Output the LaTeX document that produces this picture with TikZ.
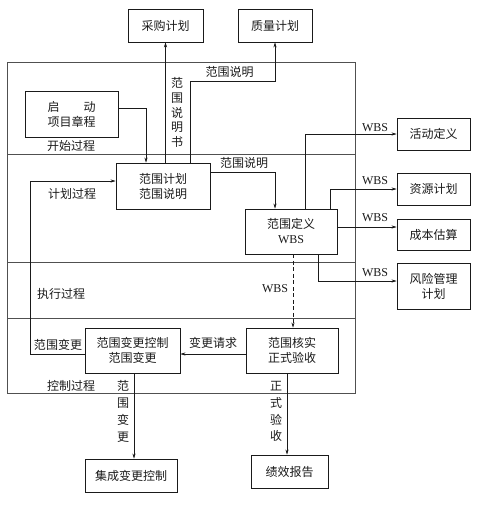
\documentclass[tikz,border=0pt]{standalone}
\usepackage{fontspec}
\setmainfont{Liberation Serif}
\newfontfamily\cjk{Noto Sans CJK SC}
\definecolor{pmInk}{HTML}{1A1A1A}
\definecolor{pmLane}{HTML}{505050}
\usetikzlibrary{arrows.meta}

\begin{document}
\begin{tikzpicture}[x=1pt,y=-1pt,
  font=\fontsize{12}{15}\selectfont\cjk,text=pmInk,
  blk/.style={draw=pmInk,line width=0.9pt,inner sep=0pt,align=center,minimum height=33pt},
  tall/.style={blk,minimum height=45pt},
  flow/.style={draw=pmInk,line width=0.55pt,-{Stealth[length=5pt,width=3.2pt]}},
  tag/.style={inner sep=1pt},
  wbs/.style={tag,font=\fontsize{12}{15}\selectfont\rmfamily},
  vtag/.style={tag,align=center},
  lane/.style={draw=pmLane,line width=0.6pt}]
\useasboundingbox (0,0) rectangle (479,506);
% process frame and lanes
\draw[lane] (7,62) rectangle (355,393);
\foreach \y in {154,262,318}{\draw[lane] (7,\y) -- (355,\y);}
\node[tag] (lStart) at (71,146) {开始过程};
\node[tag] (lPlan)  at (72,194) {计划过程};
\node[tag] (lExec)  at (61,294) {执行过程};
\node[tag] (lCtrl)  at (71,386) {控制过程};
% boxes
\node[blk,minimum width=75pt] (buy)  at (165.5,25.5) {采购计划};
\node[blk,minimum width=74pt] (qual) at (275,25.5)   {质量计划};
\node[tall,minimum width=93pt,minimum height=46pt] (start) at (71.5,114) {启\hspace{2em}动\\项目章程};
\node[tall,minimum width=94pt,minimum height=46pt] (plan)  at (163,186)  {范围计划\\范围说明};
\node[tall,minimum width=92pt] (def) at (291,231.5) {范围定义\\{\rmfamily WBS}};
\node[blk,minimum width=73pt,minimum height=32pt] (act)  at (433.5,134)   {活动定义};
\node[blk,minimum width=73pt,minimum height=32pt] (res)  at (433.5,189)   {资源计划};
\node[blk,minimum width=73pt,minimum height=31pt] (cost) at (433.5,234.5) {成本估算};
\node[tall,minimum width=73pt,minimum height=46pt] (risk) at (433.5,286) {风险管理\\计划};
\node[tall,minimum width=95pt] (chg)   at (132.5,350.5) {范围变更控制\\范围变更};
\node[tall,minimum width=92pt] (ver)   at (292,350.5)   {范围核实\\正式验收};
\node[blk,minimum width=92pt]  (integ) at (131,475.5)   {集成变更控制};
\node[blk,minimum width=77pt]  (perf)  at (289.5,471.5) {绩效报告};
% connectors
\coordinate (qBend) at (190,81);
\draw[flow] ([yshift=6pt]start.east) -| ([xshift=-17pt]plan.north);
\draw[flow] (buy.south |- plan.north) -- (buy.south);
\draw[flow] ([xshift=27pt]plan.north) -- (qBend) -| (qual.south);
\draw[flow] ([yshift=14pt]plan.east) -| ([xshift=-16pt]def.north);
\draw[flow] ([xshift=14pt]def.north) |- (act.west);
\draw[flow] ([xshift=39pt]def.north) |- (res.west);
\draw[flow] ([yshift=4.5pt]def.east) -- ([yshift=4.5pt]def.east -| cost.west);
\draw[flow] ([xshift=27pt]def.south) |- ([yshift=5pt]risk.west);
\draw[flow,dash pattern=on 4pt off 2.5pt] ([xshift=2pt]def.south) -- ([xshift=2pt]def.south |- ver.north);
\draw[flow] ([yshift=-3.5pt]ver.west) -- ([yshift=-3.5pt]ver.west -| chg.east);
\draw[flow] ([yshift=-3.5pt]chg.west) -- ++(-54,0) |- ([yshift=5pt]plan.west);
\draw[flow] ([xshift=1.5pt]chg.south) -- ([xshift=1.5pt]chg.south |- integ.north);
\draw[flow] ([xshift=-5pt]ver.south) -- ([xshift=-5pt]ver.south |- perf.north);
% connector labels
\node[vtag,font=\fontsize{12}{14.8}\selectfont\cjk] (tBook) at (177,112.5) {范\\围\\说\\明\\书};
\node[tag] (tQual)  at (229.5,72) {范围说明};
\node[tag] (tDef)   at (244,163)  {范围说明};
\node[wbs] (wAct)   at (375,128)  {WBS};
\node[wbs] (wRes)   at (375,181)  {WBS};
\node[wbs] (wCost)  at (375,218)  {WBS};
\node[wbs] (wRisk)  at (375,273)  {WBS};
\node[wbs] (wVer)   at (275,289)  {WBS};
\node[tag] (tReq)   at (213,343)  {变更请求};
\node[tag] (tBack)  at (58,345)   {范围变更};
\node[vtag,font=\fontsize{12}{16.8}\selectfont\cjk] (tChg) at (123,411.5) {范\\围\\变\\更};
\node[vtag,font=\fontsize{12}{16.8}\selectfont\cjk] (tAcc) at (276,411.5) {正\\式\\验\\收};
\end{tikzpicture}
\end{document}
